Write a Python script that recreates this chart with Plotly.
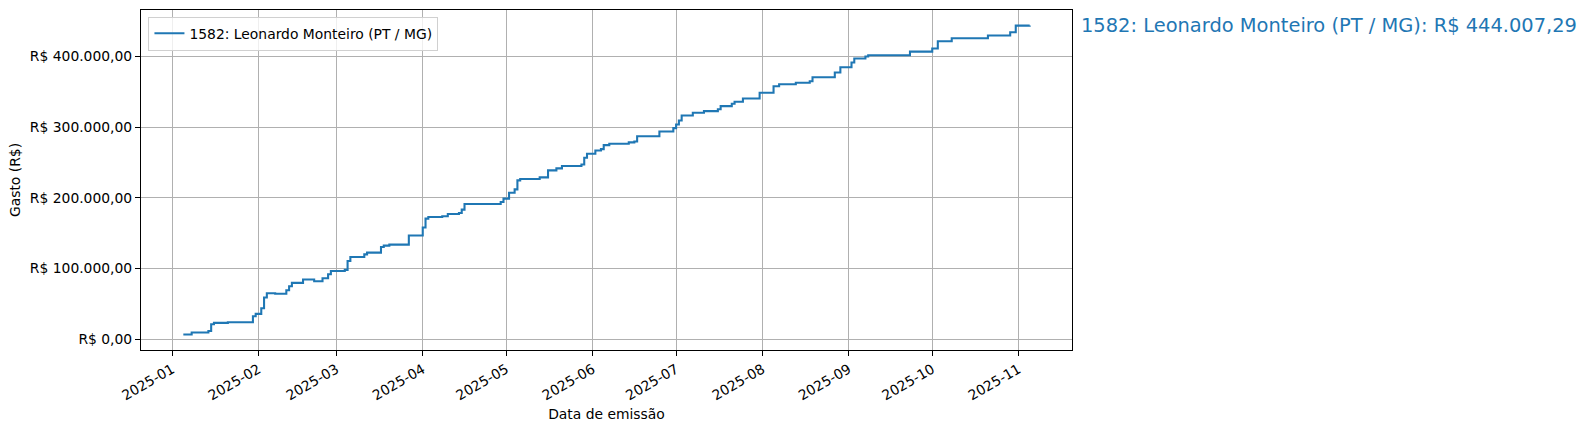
import pandas as pd
import plotly.graph_objects as go

# --- Dados (gasto acumulado por data de emissão) ---
nome = "1582: Leonardo Monteiro (PT / MG)"

datas = [
    "2025-01-05", "2025-01-08", "2025-01-14", "2025-01-15", "2025-01-16", "2025-01-21",
    "2025-01-30", "2025-01-31", "2025-02-02", "2025-02-03", "2025-02-04", "2025-02-07",
    "2025-02-11", "2025-02-12", "2025-02-13", "2025-02-17", "2025-02-21", "2025-02-24",
    "2025-02-26", "2025-02-27", "2025-03-04", "2025-03-05", "2025-03-06", "2025-03-11",
    "2025-03-12", "2025-03-17", "2025-03-18", "2025-03-20", "2025-03-27", "2025-04-01",
    "2025-04-02", "2025-04-03", "2025-04-08", "2025-04-10", "2025-04-14", "2025-04-15",
    "2025-04-16", "2025-04-29", "2025-04-30", "2025-05-02", "2025-05-04", "2025-05-05",
    "2025-05-06", "2025-05-13", "2025-05-16", "2025-05-19", "2025-05-21", "2025-05-28",
    "2025-05-29", "2025-05-30", "2025-06-02", "2025-06-04", "2025-06-05", "2025-06-07",
    "2025-06-14", "2025-06-16", "2025-06-17", "2025-06-25", "2025-06-30", "2025-07-01",
    "2025-07-02", "2025-07-03", "2025-07-07", "2025-07-11", "2025-07-16", "2025-07-17",
    "2025-07-21", "2025-07-22", "2025-07-25", "2025-07-31", "2025-08-05", "2025-08-07",
    "2025-08-13", "2025-08-18", "2025-08-19", "2025-08-27", "2025-08-29", "2025-09-02",
    "2025-09-03", "2025-09-07", "2025-09-08", "2025-09-23", "2025-10-01", "2025-10-03",
    "2025-10-08", "2025-10-21", "2025-10-29", "2025-10-31", "2025-11-05",
]

gasto = [
    6500, 9500, 11500, 21000, 23000, 24000,
    32500, 35800, 43800, 58900, 65000, 64200,
    69300, 74900, 79600, 84400, 82000, 86200,
    91900, 96500, 98000, 110700, 116300, 120000,
    122500, 130500, 132400, 133800, 146600, 157900,
    170600, 172900, 173900, 177100, 178500, 183300,
    191200, 194000, 198900, 207300, 212000, 224700,
    226600, 229000, 238900, 241700, 245000, 247300,
    256800, 262500, 267100, 269000, 274600, 276500,
    278500, 279800, 287300, 294000, 298700, 303900,
    309500, 316600, 320400, 322700, 325500, 329800,
    333100, 336000, 340600, 348700, 358000, 360800,
    362800, 365100, 370700, 377400, 384900, 391500,
    397200, 400000, 401800, 407000, 411300, 421600,
    425900, 429700, 434300, 443800, 444007.29,
]

ytick_vals = [0, 100000, 200000, 300000, 400000]
ytick_text = ["R$ 0,00", "R$ 100.000,00", "R$ 200.000,00", "R$ 300.000,00", "R$ 400.000,00"]

df = pd.DataFrame({"data": pd.to_datetime(datas), "gasto": gasto})

# margens de 5% como no matplotlib
t0, t1 = df["data"].min(), df["data"].max()
dt = (t1 - t0) * 0.05
y0, y1 = df["gasto"].min(), df["gasto"].max()
dy = (y1 - y0) * 0.05

azul = "#1f77b4"
fonte = "DejaVu Sans"
fs = 13.89  # 10pt a 100 dpi

fig = go.Figure()
fig.add_trace(go.Scatter(
    x=df["data"], y=df["gasto"],
    mode="lines", line=dict(color=azul, width=2.08, shape="hv"),
    name=nome,
))

total = f"{y1:,.2f}".replace(",", "X").replace(".", ",").replace("X", ".")
fig.add_annotation(
    x=1, xref="paper", xanchor="left", xshift=7,
    y=y1, yref="y", yanchor="middle",
    text=f"{nome}: R$ {total}", showarrow=False,
    font=dict(size=19.44, color=azul, family=fonte),
)

eixo = dict(
    showline=True, linecolor="black", linewidth=1.1, mirror=True,
    showgrid=True, gridcolor="#b0b0b0", gridwidth=1.1,
    ticks="outside", ticklen=5, tickwidth=1.1, tickcolor="black",
    zeroline=False, tickfont=dict(size=fs, color="black"),
)

fig.update_layout(
    width=1586, height=430,
    margin=dict(l=141, r=514, t=10, b=80),
    paper_bgcolor="white", plot_bgcolor="white",
    font=dict(family=fonte, size=fs, color="black"),
    showlegend=True,
    legend=dict(
        x=0.008, y=0.98, xanchor="left", yanchor="top",
        bgcolor="rgba(255,255,255,0.8)", bordercolor="#d0d0d0", borderwidth=1,
        font=dict(size=fs),
    ),
)
fig.update_xaxes(
    **eixo, type="date", range=[t0 - dt, t1 + dt],
    dtick="M1", tick0="2025-01-01", tickformat="%Y-%m", tickangle=-30,
    title=dict(text="Data de emissão", font=dict(size=fs), standoff=6),
)
fig.update_yaxes(
    **eixo, range=[y0 - dy, y1 + dy],
    tickvals=ytick_vals, ticktext=ytick_text,
    title=dict(text="Gasto (R$)", font=dict(size=fs), standoff=5),
)

# tira a margem padrão do <body> para a figura ocupar a janela toda
fig.write_html(
    "out.html",
    config={"displayModeBar": False},
    post_script="document.body.style.margin='0';",
)
